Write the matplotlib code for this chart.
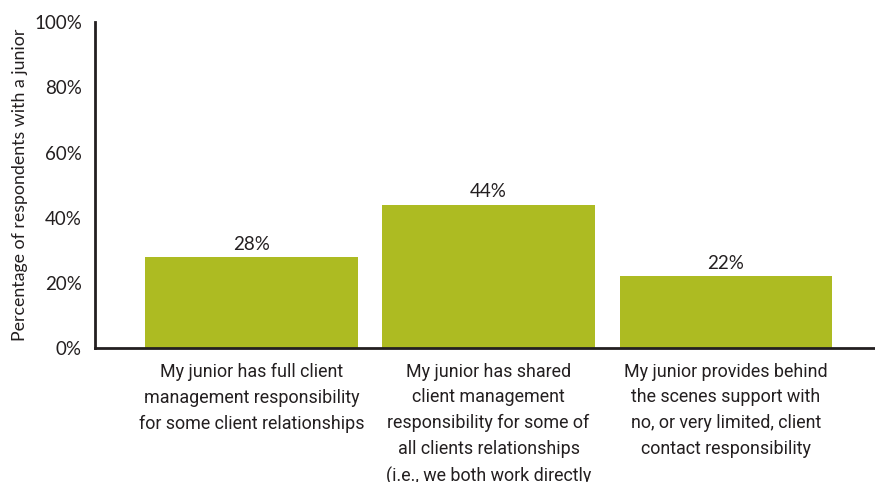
import matplotlib
matplotlib.use("Agg")
import matplotlib.pyplot as plt
from matplotlib import font_manager

categories = [
    "My junior has full client\nmanagement responsibility\nfor some client relationships",
    "My junior has shared\nclient management\nresponsibility for some of\nall clients relationships\n(i.e., we both work directly",
    "My junior provides behind\nthe scenes support with\nno, or very limited, client\ncontact responsibility",
]
values = [28, 44, 22]
yticks = [0, 20, 40, 60, 80, 100]

bar_color = "#adbb22"
ink = "#231f20"

names = {f.name for f in font_manager.fontManager.ttflist}
label_font = "Liberation Sans Narrow" if "Liberation Sans Narrow" in names else "Roboto"

fig = plt.figure(figsize=(8.75, 4.82), dpi=100)
ax = fig.add_axes([0.1086, 0.278, 0.8914, 0.676])

x = range(len(values))
ax.bar(x, values, width=0.895, color=bar_color, edgecolor="none")

for xi, v in zip(x, values):
    ax.text(xi, v + 1.3, f"{v}%", ha="center", va="bottom",
            fontsize=13.5, color=ink, family="Lato")

ax.set_xlim(-0.66, 2.63)
ax.set_ylim(0, 100)
ax.set_yticks(yticks)
ax.set_yticklabels([f"{t}%" for t in yticks], fontsize=13.5, color=ink, family="Lato")
ax.tick_params(axis="y", length=0, pad=9.5)
ax.set_xticks(list(x))
ax.set_xticklabels(categories, fontsize=12.9, color=ink, family=label_font,
                   linespacing=1.56, va="top")
ax.tick_params(axis="x", length=0, pad=10.5)

ax.set_ylabel("Percentage of respondents with a junior", fontsize=12.8,
              color=ink, family="Lato")
ax.yaxis.set_label_coords(-0.086, 0.5)

for side in ("top", "right"):
    ax.spines[side].set_visible(False)
for side in ("left", "bottom"):
    ax.spines[side].set_color(ink)
    ax.spines[side].set_linewidth(2)

fig.savefig("out.png", dpi=100)
